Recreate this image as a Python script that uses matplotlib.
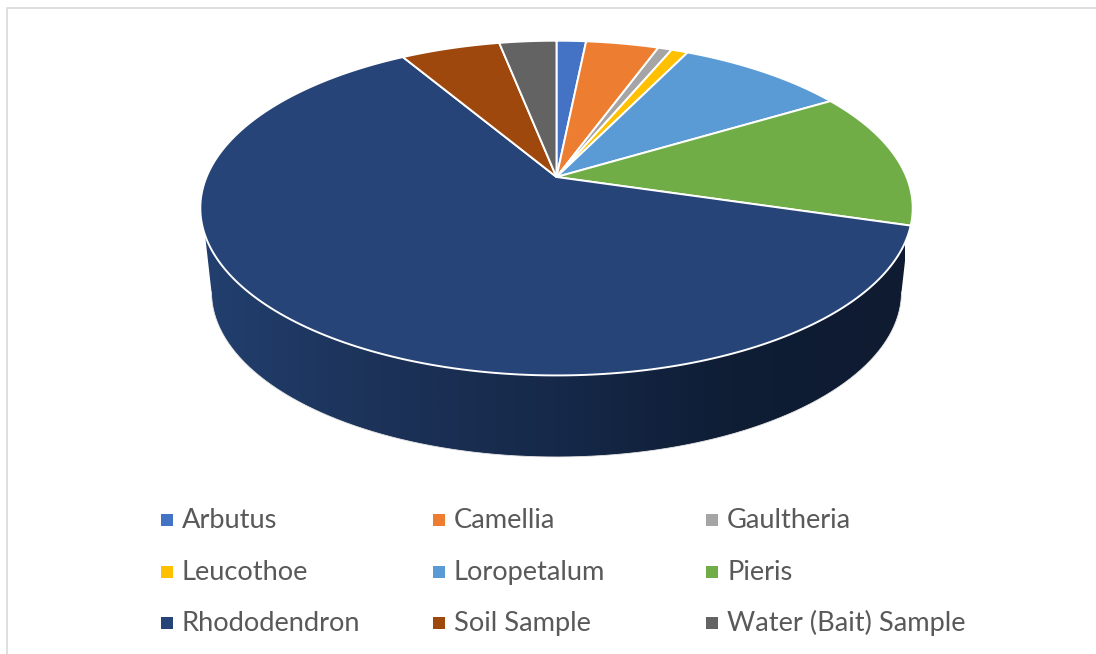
import matplotlib
matplotlib.use("Agg")
import matplotlib.pyplot as plt
from matplotlib.colors import LinearSegmentedColormap
from matplotlib.patches import PathPatch
from matplotlib.path import Path
import numpy as np

# percentages
names = ["Arbutus", "Camellia", "Gaultheria", "Leucothoe", "Loropetalum", "Pieris",
         "Rhododendron", "Soil Sample", "Water (Bait) Sample"]
shares = [1.6, 3.95, 0.75, 0.9, 9.2, 13.2, 61.9, 5.4, 3.1]
colors = ["#4472C4", "#ED7D31", "#A5A5A5", "#FFC000", "#5B9BD5", "#70AD47",
          "#264478", "#9E480E", "#636363"]

plt.rcParams['font.family'] = ['Lato', 'DejaVu Sans']

fig = plt.figure(figsize=(10.96, 6.54), dpi=100)
ax = fig.add_axes([0, 0, 1, 1])
ax.set_xlim(0, 1096)
ax.set_ylim(654, 0)
ax.axis('off')

# pie apex and perspective of the tilted disc
cx, cy = 556.5, 177
p, a, c = 0.1856, 161.6, 350


def project(theta):
    # theta is clockwise from the top of the disc
    u, v = np.sin(theta), np.cos(theta)
    w = 1 + p * v
    return cx + c * u / w, cy - a * v / w


# side wall, dark gradient clipped to the outline
top_t = np.linspace(np.pi * 0.45, np.pi * 1.55, 200)
top_x, top_y = project(top_t)
bot_t = np.linspace(np.pi, 0, 200)
bot_x = 556.5 + 345 * np.cos(bot_t)
bot_y = 292 + 165 * np.sin(bot_t)
wall_x = np.concatenate([top_x, [202], bot_x, [911]])
wall_y = np.concatenate([top_y, [208], bot_y, [208]])
wall = PathPatch(Path(np.column_stack([wall_x, wall_y])), facecolor='none', edgecolor='none')
ax.add_patch(wall)
cmap = LinearSegmentedColormap.from_list('wall', ["#223F6E", "#1C3258", "#16294A", "#0F1D35", "#0E1B31"])
grad = ax.imshow(np.linspace(0, 1, 512).reshape(1, -1), extent=(205, 905, 460, 200), cmap=cmap,
                 aspect='auto', zorder=1)
grad.set_clip_path(wall)
ax.set_xlim(0, 1096)
ax.set_ylim(654, 0)
ax.plot(bot_x, bot_y, color='#e6e6e6', lw=0.6, zorder=1.5)

# top of the pie
edges = np.cumsum([0] + shares) / np.sum(shares) * 2 * np.pi
for i in range(len(shares)):
    t = np.linspace(edges[i], edges[i + 1], 200)
    x, y = project(t)
    ax.fill(np.r_[cx, x], np.r_[cy, y], facecolor=colors[i], edgecolor='white', lw=1.4,
            joinstyle='round', zorder=2)

# legend
col_x = [161, 433, 706]
row_y = [520, 571.5, 622.5]
for i, name in enumerate(names):
    mx = col_x[i % 3]
    my = row_y[i // 3]
    ax.scatter([mx + 5.5], [my], marker='s', s=66, color=colors[i], linewidths=0, zorder=3)
    ax.text(mx + 21, my + 8.5, name, fontsize=19.6, color='#595959', va='baseline', ha='left')

# chart border, cut by the crop on the right and bottom
ax.plot([7, 7, 1096], [654, 8, 8], color='#d9d9d9', lw=1.2, zorder=0)

fig.savefig('out.png', dpi=100)
